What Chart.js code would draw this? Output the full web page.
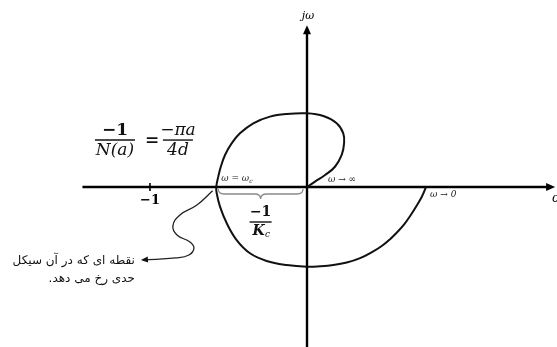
<!DOCTYPE html>
<html>
<head>
<meta charset="utf-8">
<script src="https://cdn.jsdelivr.net/npm/chart.js@4.4.1/dist/chart.umd.min.js"></script>
<style>
  html, body { margin: 0; padding: 0; background: #fff; }
  #wrap { width: 557px; height: 347px; }
</style>
</head>
<body>
<div id="wrap"><canvas id="my-chart"></canvas></div>
<script>
"use strict";
// Nyquist locus of G(jw) and the -1/N(a) point on the real axis.
// units: the "-1" tick on the real axis sits at x = -1
// read from w -> 0 (right end) round to w -> inf (origin)
const locusX = [0.758, 0.731, 0.699, 0.66, 0.62, 0.574, 0.529, 0.476, 0.422, 0.338, 0.253, 0.168, 0.083, 0,
  -0.129, -0.257, -0.363, -0.448, -0.511, -0.554, -0.575, -0.578,
  -0.565, -0.549, -0.522, -0.48, -0.427, -0.342, -0.236, -0.129, 0, 0.104, 0.189, 0.231, 0.236, 0.221,
  0.178, 0.115, 0.051, 0];
const locusY = [0, -0.062, -0.118, -0.18, -0.236, -0.288, -0.332, -0.376, -0.41, -0.453, -0.481, -0.497, -0.505, -0.508,
  -0.497, -0.471, -0.422, -0.338, -0.231, -0.125, -0.04, 0,
  0.066, 0.129, 0.204, 0.278, 0.342, 0.406, 0.448, 0.465, 0.469, 0.452, 0.406, 0.342, 0.278, 0.204,
  0.129, 0.076, 0.034, 0];

// wavy pointer from the crossing point to the persian note
const pointerX = [-0.601, -0.701, -0.809, -0.854, -0.828, -0.745, -0.72, -0.752, -0.834, -1.045];
const pointerY = [-0.024, -0.115, -0.178, -0.248, -0.306, -0.35, -0.389, -0.433, -0.452, -0.465];

const realAxis = [-1.43, 1.58];
const imagAxis = [-1.03, 1.03];
const realTicks = [-1];
const realTickLabels = ["−1"];
const crossX = -0.578; // w = wc, where -1/Kc sits

const noteLines = ["نقطه ای که در آن سیکل", "حدی رخ می دهد."];

function toPoints(xs, ys) {
  const pts = [];
  for (let i = 0; i < xs.length; i++) {
    pts.push({ x: xs[i], y: ys[i] });
  }
  return pts;
}

function arrowHead(ctx, x, y, angle, len, half) {
  ctx.save();
  ctx.translate(x, y);
  ctx.rotate(angle);
  ctx.beginPath();
  ctx.moveTo(0, 0);
  ctx.lineTo(-len, -half);
  ctx.lineTo(-len, half);
  ctx.closePath();
  ctx.fill();
  ctx.restore();
}

function fraction(ctx, cx, yNum, yLine, yDen, num, den, width, font) {
  ctx.font = font;
  ctx.textAlign = "center";
  ctx.textBaseline = "middle";
  ctx.fillText(num, cx, yNum);
  ctx.fillText(den, cx, yDen);
  ctx.lineWidth = 1.4;
  ctx.beginPath();
  ctx.moveTo(cx - width / 2, yLine);
  ctx.lineTo(cx + width / 2, yLine);
  ctx.stroke();
}

const axesPlugin = {
  id: "axes",
  beforeDatasetsDraw(chart) {
    const ctx = chart.ctx;
    const sx = chart.scales.x;
    const sy = chart.scales.y;
    const px = (v) => sx.getPixelForValue(v);
    const py = (v) => sy.getPixelForValue(v);
    const ox = px(0);
    const oy = py(0);

    ctx.save();
    ctx.strokeStyle = "#000";
    ctx.fillStyle = "#000";
    ctx.lineWidth = 2.4;

    // real axis
    ctx.beginPath();
    ctx.moveTo(px(realAxis[0]), oy);
    ctx.lineTo(px(realAxis[1]) - 4, oy);
    ctx.stroke();
    arrowHead(ctx, px(realAxis[1]), oy, 0, 9, 4);

    // imaginary axis
    ctx.beginPath();
    ctx.moveTo(ox, py(imagAxis[0]));
    ctx.lineTo(ox, py(imagAxis[1]) + 4);
    ctx.stroke();
    arrowHead(ctx, ox, py(imagAxis[1]), -Math.PI / 2, 9, 4);

    // ticks
    ctx.lineWidth = 1.6;
    for (let i = 0; i < realTicks.length; i++) {
      const tx = px(realTicks[i]);
      ctx.beginPath();
      ctx.moveTo(tx, oy - 4);
      ctx.lineTo(tx, oy + 4);
      ctx.stroke();
      ctx.font = "bold 13px 'DejaVu Serif'";
      ctx.textAlign = "center";
      ctx.textBaseline = "middle";
      ctx.fillText(realTickLabels[i], tx, oy + 14);
    }

    // axis names
    ctx.font = "italic 11px 'DejaVu Serif'";
    ctx.textAlign = "center";
    ctx.fillText("jω", ox + 1, py(imagAxis[1]) - 9);
    ctx.textAlign = "left";
    ctx.font = "italic 12px 'DejaVu Serif'";
    ctx.fillText("σ", px(realAxis[1]) - 3, oy + 12);
    ctx.restore();
  },
  afterDatasetsDraw(chart) {
    const ctx = chart.ctx;
    const sx = chart.scales.x;
    const sy = chart.scales.y;
    const px = (v) => sx.getPixelForValue(v);
    const py = (v) => sy.getPixelForValue(v);
    const ox = px(0);
    const oy = py(0);

    ctx.save();
    ctx.fillStyle = "#222";
    ctx.strokeStyle = "#222";

    // small omega labels
    ctx.font = "italic 9px 'DejaVu Serif'";
    ctx.textAlign = "left";
    ctx.textBaseline = "middle";
    ctx.fillText("ω = ω", px(crossX) + 5, oy - 8);
    const wcW = ctx.measureText("ω = ω").width;
    ctx.font = "italic 6px 'DejaVu Serif'";
    ctx.fillText("c", px(crossX) + 5 + wcW, oy - 6);
    ctx.font = "italic 9px 'DejaVu Serif'";
    ctx.fillText("ω → ∞", ox + 21, oy - 7);
    ctx.fillText("ω → 0", px(locusX[0]) + 4, oy + 8);

    // brace under the real axis between the crossing and the origin
    const bl = px(crossX) + 2;
    const br = ox - 4;
    const bm = (bl + br) / 2;
    const bt = oy + 2;
    ctx.strokeStyle = "#8a8a8a";
    ctx.lineWidth = 1.3;
    ctx.beginPath();
    ctx.moveTo(bl, bt);
    ctx.quadraticCurveTo(bl, bt + 5, bl + 6, bt + 5);
    ctx.lineTo(bm - 6, bt + 5);
    ctx.quadraticCurveTo(bm, bt + 5, bm, bt + 10);
    ctx.quadraticCurveTo(bm, bt + 5, bm + 6, bt + 5);
    ctx.lineTo(br - 6, bt + 5);
    ctx.quadraticCurveTo(br, bt + 5, br, bt);
    ctx.stroke();

    ctx.fillStyle = "#111";
    ctx.strokeStyle = "#111";
    fraction(ctx, bm, oy + 25, oy + 35, oy + 45, "−1", "", 22, "bold 14px 'DejaVu Serif'");
    ctx.font = "italic bold 14px 'DejaVu Serif'";
    ctx.textAlign = "center";
    ctx.fillText("K", bm - 2, oy + 44);
    ctx.font = "italic 9px 'DejaVu Serif'";
    ctx.fillText("c", bm + 7, oy + 48);

    // describing function formula
    const fy = py(0.299);
    fraction(ctx, px(-1.223), fy - 9, fy, fy + 11, "−1", "", 40, "bold 17px 'DejaVu Serif'");
    ctx.font = "italic 17px 'DejaVu Serif'";
    ctx.fillText("N(a)", px(-1.223), fy + 11);
    ctx.font = "bold 17px 'DejaVu Serif'";
    ctx.fillText("=", px(-0.987), fy + 1);
    fraction(ctx, px(-0.822), fy - 9, fy, fy + 11, "", "", 30, "bold 17px 'DejaVu Serif'");
    ctx.font = "italic 17px 'DejaVu Serif'";
    ctx.fillText("−πa", px(-0.822), fy - 9);
    ctx.fillText("4d", px(-0.822), fy + 11);

    // arrow head of the pointer and the persian note
    const n = pointerX.length - 1;
    const ax = px(pointerX[n]);
    const ay = py(pointerY[n]);
    const ang = Math.atan2(ay - py(pointerY[n - 1]), ax - px(pointerX[n - 1]));
    arrowHead(ctx, ax - 2, ay, ang, 7, 3);

    ctx.font = "12px 'DejaVu Sans'";
    ctx.direction = "rtl";
    ctx.textAlign = "right";
    ctx.fillText(noteLines[0], ax - 8, ay + 1);
    ctx.fillText(noteLines[1], ax - 8, ay + 19);
    ctx.restore();
  },
};

const ctx = document.getElementById("my-chart");
const myChart = new Chart(ctx, {
  type: "scatter",
  data: {
    datasets: [
      {
        label: "G(jw)",
        data: toPoints(locusX, locusY),
        showLine: true,
        borderColor: "#111",
        borderWidth: 2,
        pointRadius: 0,
        tension: 0.4,
      },
      {
        label: "pointer",
        data: toPoints(pointerX, pointerY),
        showLine: true,
        borderColor: "#222",
        borderWidth: 1.3,
        pointRadius: 0,
        tension: 0.45,
      },
    ],
  },
  options: {
    responsive: true,
    maintainAspectRatio: false,
    animation: false,
    layout: { padding: 0 },
    plugins: { legend: { display: false }, tooltip: { enabled: false } },
    scales: {
      x: { type: "linear", min: -1.955, max: 1.592, display: false },
      y: { type: "linear", min: -1.019, max: 1.191, display: false },
    },
  },
  plugins: [axesPlugin],
});
</script>
</body>
</html>
